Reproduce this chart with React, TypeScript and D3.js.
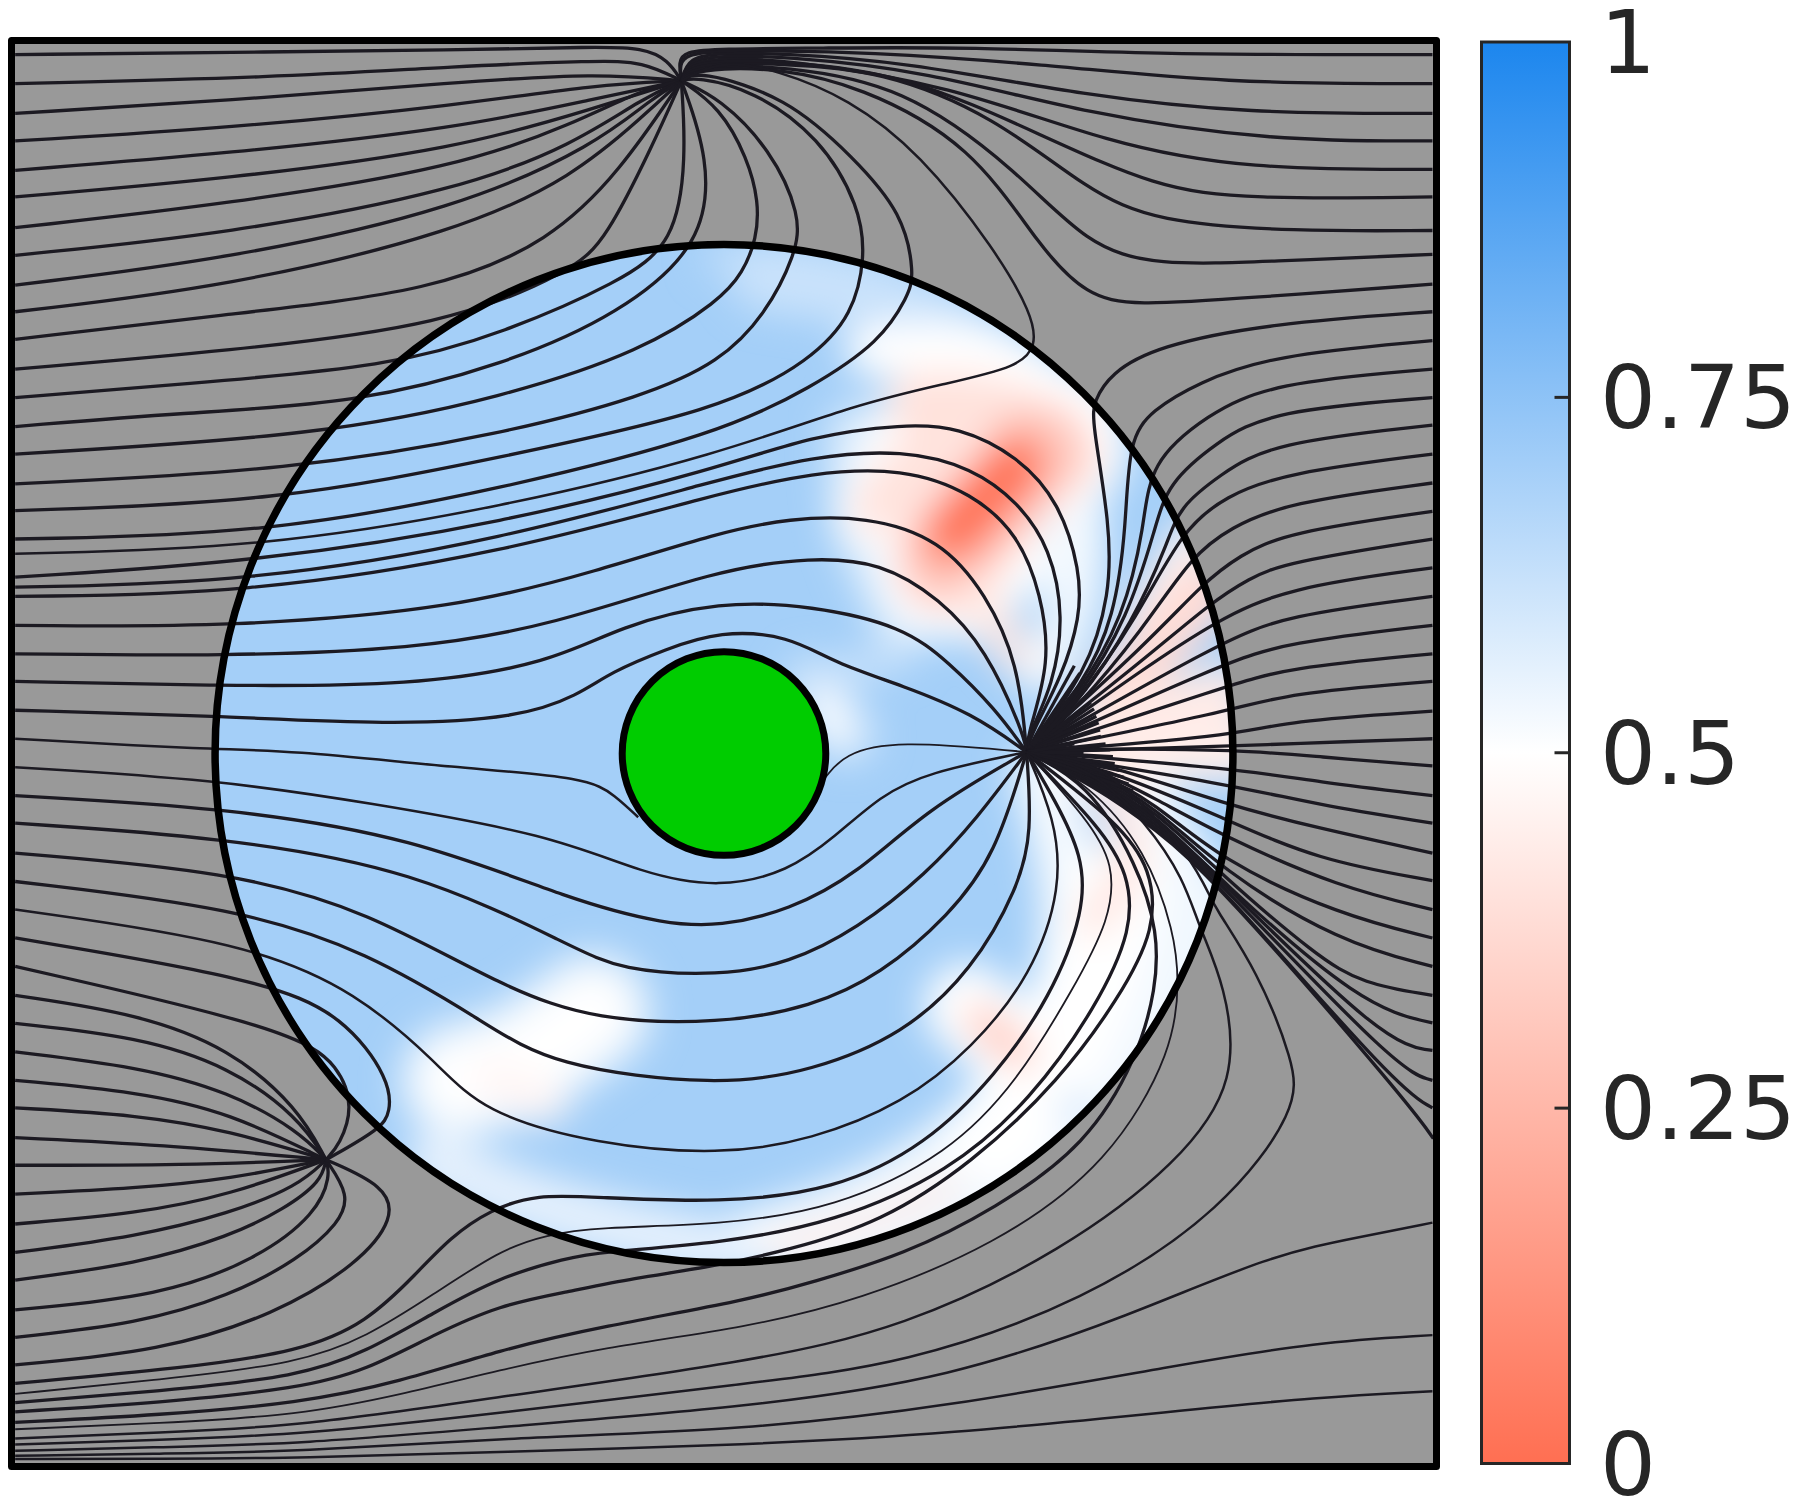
import React from "react";
import * as d3 from "d3";

// streamlines are in trace units (about 2.18 units per pixel)
const S1 = [1484, 176];
const S2 = [2236, 1638];
const S3 = [710, 2526];

const topFanLeft = [
  [[33,119],[500,114],[1000,109],[1300,102],[1400,104],[1455,130],S1],
  [[33,182],[600,169],[1000,144],[1300,132],[1400,134],S1],
  [[33,247],[500,219],[1000,179],[1300,159],S1],
  [[33,307],[500,279],[1000,229],[1300,184],S1],
  [[33,371],[500,334],[1000,279],[1300,214],S1],
  [[33,429],[500,389],[1000,324],[1300,234],S1],
  [[33,496],[500,444],[1000,364],[1250,269],[1400,194],S1],
  [[33,556],[500,509],[1000,414],[1250,314],[1400,214],S1],
  [[33,621],[500,564],[1000,454],[1300,314],[1420,214],S1],
  [[33,679],[500,624],[1000,504],[1250,384],[1400,254],S1],
  [[33,739],[500,684],[950,634],[1200,524],[1350,374],S1],
  [[33,804],[500,764],[970,709],[1250,589],[1320,520],[1420,320],S1],
];

const throughDiscToTop = [
  [[33,866],[400,836],[850,799],[1100,724],[1350,614],[1470,530],[1495,344],S1],
  [[33,929],[400,899],[775,879],[1100,794],[1350,684],[1535,530],[1545,344],S1],
  [[33,989],[700,949],[1100,864],[1400,764],[1568,654],[1618,594],[1648,520],[1653,440],[1628,344],[1568,234],S1],
  [[33,1054],[640,1024],[1100,944],[1400,864],[1568,789],[1668,684],[1733,554],[1745,470],[1678,324],[1568,214],S1],
  [[33,1112],[600,1094],[1100,994],[1568,894],[1768,784],[1858,684],[1885,560],[1873,451],[1786,298],[1640,196],[1518,168],S1],
  [[33,1174],[575,1164],[1100,1064],[1568,944],[1768,844],[1918,744],[1978,644],[1992,600],[1967,464],[1858,342],[1714,211],[1518,152],S1],
];

const throughDiscToInner = [
  [[33,1257],[560,1224],[1100,1139],[1568,1019],[1768,949],[1968,924],[2088,929],[2218,994],[2308,1094],[2353,1244],[2353,1344],[2313,1474],[2248,1594],S2],
  [[33,1279],[540,1269],[1100,1174],[1568,1044],[1768,994],[1968,979],[2118,1019],[2218,1094],[2288,1194],[2318,1344],[2293,1494],[2243,1594],S2],
  [[33,1299],[530,1294],[1100,1204],[1568,1074],[1768,1029],[1968,1019],[2118,1074],[2218,1164],[2268,1294],[2288,1444],[2240,1594],S2],
  [[33,1362],[510,1366],[1000,1324],[1300,1244],[1568,1159],[1718,1129],[1888,1124],[2048,1174],[2148,1294],[2218,1444],S2],
  [[33,1424],[490,1429],[900,1414],[1200,1364],[1568,1239],[1768,1214],[1918,1224],[2048,1304],[2148,1414],[2228,1594],S2],
  [[33,1484],[475,1494],[900,1494],[1200,1444],[1350,1364],[1568,1309],[1768,1319],[1968,1364],[2068,1444],[2168,1544],S2],
  [[33,1547],[470,1559],[850,1579],[1130,1564],[1260,1514],[1330,1464],[1450,1414],[1568,1374],[1718,1384],[1818,1444],[1968,1494],[2118,1554],S2],
  [[33,1733],[480,1758],[900,1823],[1250,1963],[1450,2013],[1568,2018],[1718,1983],[1868,1903],[2018,1763],S2],
  [[33,1793],[480,1823],[900,1893],[1250,2063],[1350,2113],[1568,2126],[1718,2098],[1868,2023],[2018,1903],[2128,1783],S2],
  [[33,1858],[500,1898],[800,1983],[1100,2153],[1300,2223],[1568,2230],[1768,2193],[1918,2123],[2068,1993],[2168,1863],S2],
  [[33,1920],[520,1978],[800,2073],[1050,2223],[1200,2323],[1568,2366],[1768,2333],[1968,2253],[2118,2113],[2218,1933],[2248,1813],S2],
  [[33,3013],[400,2980],[653,2944],[799,2881],[908,2773],[980,2696],[1067,2635],[1170,2601],[1300,2608],[1568,2620],[1818,2593],[2018,2493],[2168,2343],[2288,2173],[2363,1983],[2358,1863],[2298,1743],S2],
  [[33,3055],[350,3030],[653,2998],[799,2944],[943,2860],[1089,2781],[1235,2740],[1307,2727],[1568,2708],[1818,2663],[2068,2553],[2248,2393],[2388,2193],[2468,2023],[2458,1903],[2398,1803],S2],
  [[33,3075],[350,3055],[653,3024],[799,2984],[943,2908],[1089,2842],[1235,2814],[1379,2784],[1546,2760],[1718,2723],[1918,2663],[2118,2533],[2308,2353],[2438,2173],[2518,2023],[2508,1893],[2438,1793],S2],
  [[33,3098],[350,3082],[653,3056],[871,3010],[1089,2940],[1307,2890],[1633,2831],[1768,2793],[1968,2733],[2168,2633],[2368,2493],[2478,2303],[2518,2153],[2523,2033],[2478,1883],[2368,1703],S2],
];

// middle weight lines, the ones that alias into dashes in the reference
const lightLines = [
  [[33,1206],[565,1194],[1100,1104],[1568,989],[1868,879],[2068,834],[2218,799],[2258,754],[2248,684],[2168,544],[2004,333],[1848,214],[1692,152],[1568,130],S1],
  [[33,1609],[465,1633],[620,1633],[1000,1673],[1280,1693],[1340,1733],[1390,1780]],
  [[33,1671],[470,1698],[800,1748],[1200,1818],[1400,1903],[1568,1935],[1718,1898],[1818,1823],[1918,1733],[2018,1683],S2],
  [[33,1981],[540,2053],[780,2163],[950,2313],[1050,2423],[1300,2493],[1568,2516],[1768,2483],[1968,2403],[2118,2283],[2248,2123],[2313,1933],[2298,1783],S2],
  [[33,3133],[350,3120],[653,3107],[1089,3042],[1633,2966],[1968,2893],[2318,2723],[2568,2533],[2698,2353],[2668,2143],[2613,2023],[2578,1913],[2498,1793],[2378,1673],S2],
  [[33,3146],[350,3136],[653,3125],[1089,3078],[1633,3012],[1968,2973],[2368,2833],[2668,2633],[2828,2413],[2818,2313],[2738,2113],[2643,1973],[2628,1933],[2568,1833],[2468,1733],[2388,1663],S2],
  [[33,3160],[350,3152],[653,3145],[1089,3108],[1633,3064],[2068,3003],[2468,2863],[2768,2733],[2968,2693],[3120,2663]],
  [[33,3171],[350,3166],[653,3162],[1089,3132],[1633,3114],[2068,3063],[2568,2973],[2868,2923],[3120,2908]],
  [[33,3178],[350,3177],[653,3176],[1089,3162],[1633,3147],[2068,3123],[2568,3073],[2868,3043],[3120,3030]],
];

// hairlines
const thinLines = [
  [[1798,1693],[1838,1643],[1948,1612],S2],
  [[33,3036],[350,3005],[653,2969],[799,2912],[943,2820],[1089,2723],[1187,2690],[1300,2673],[1568,2668],[1818,2633],[2068,2513],[2218,2353],[2338,2153],[2418,2003],[2428,1883],[2368,1783],S2],
  [[33,3113],[350,3100],[653,3082],[871,3038],[1089,2984],[1307,2936],[1633,2890],[1868,2833],[2168,2713],[2418,2533],[2558,2283],[2568,2133],[2558,2033],[2498,1853],[2368,1703],S2],
];

const lowerLeftFan = [
  [[33,2043],[570,2133],[750,2213],[850,2353],[850,2423],[830,2458],S3],
  [[33,2105],[640,2243],[740,2323],[770,2413],[740,2493],S3],
  [[33,2168],[300,2208],[500,2283],[650,2413],S3],
  [[33,2229],[300,2258],[500,2323],[650,2433],S3],
  [[33,2291],[300,2323],[500,2378],[650,2463],S3],
  [[33,2353],[300,2378],[500,2423],S3],
  [[33,2413],[300,2428],[500,2463],S3],
  [[33,2478],[350,2493],S3],
  [[33,2538],[400,2538],S3],
  [[33,2601],[300,2588],[500,2568],S3],
  [[33,2666],[300,2643],[500,2603],S3],
  [[33,2728],[300,2693],[500,2643],[650,2583],S3],
  [[33,2788],[300,2753],[500,2693],[620,2633],[700,2573],S3],
  [[33,2853],[350,2823],[560,2743],[690,2643],[720,2560],S3],
  [[33,2913],[300,2883],[500,2823],[650,2743],[740,2663],[762,2603],S3],
  [[33,2973],[350,2943],[600,2863],[780,2753],[860,2653],[840,2583],S3],
];

const topFanRight = [
  [[3120,119],[2518,119],[2118,102],[1768,105],[1568,106],[1490,112],[1478,135],S1],
  [[3120,182],[2668,182],[2268,139],[1868,113],[1699,111],[1568,111],[1495,118],[1480,140],S1],
  [[3120,247],[2718,247],[2368,209],[1968,134],[1699,116],[1568,116],[1500,124],S1],
  [[3120,307],[2768,307],[2368,249],[2018,154],[1699,122],[1568,122],[1500,130],S1],
  [[3120,369],[2718,369],[2418,314],[2068,184],[1699,128],[1568,128],[1500,136],S1],
  [[3120,429],[2718,434],[2518,409],[2268,294],[1968,159],[1699,133],[1568,133],[1500,142],S1],
  [[3120,502],[2818,504],[2518,484],[2368,414],[2168,254],[1918,152],[1699,139],[1568,138],[1500,148],S1],
  [[3120,554],[2768,569],[2518,579],[2368,534],[2218,374],[1968,184],[1699,144],[1568,143],[1500,154],S1],
  [[3120,619],[2718,649],[2468,666],[2368,644],[2268,544],[2118,314],[1868,185],[1699,150],[1568,148],[1500,160],S1],
];

const rightFan = [
  [[3120,679],[2768,704],[2518,754],[2418,814],[2383,874],[2378,914],[2418,1144],[2418,1294],[2368,1464],S2],
  [[3120,742],[2768,774],[2608,834],[2508,894],[2458,959],[2453,1144],[2428,1344],[2358,1494],S2],
  [[3120,804],[2768,834],[2628,904],[2503,1009],[2493,1144],[2448,1344],[2348,1514],S2],
  [[3120,866],[2768,894],[2648,964],[2543,1054],[2518,1144],[2458,1344],[2348,1524],S2],
  [[3120,926],[2768,964],[2658,1034],[2568,1104],[2543,1184],[2468,1354],[2348,1534],S2],
  [[3120,989],[2800,1030],[2670,1080],[2575,1154],[2480,1340],[2340,1540],S2],
  [[3120,1052],[2800,1095],[2680,1150],[2597,1209],[2490,1370],[2340,1550],S2],
  [[3120,1114],[2800,1160],[2700,1210],[2621,1269],[2500,1400],S2],
  [[3120,1174],[2800,1225],[2720,1260],[2636,1314],[2500,1430],S2],
  [[3120,1237],[2800,1280],[2647,1354],[2500,1450],S2],
  [[3120,1299],[2800,1340],[2658,1399],S2],
  [[3120,1362],[2800,1400],[2667,1444],S2],
  [[3120,1424],[2800,1455],[2675,1494],S2],
  [[3120,1484],[2800,1510],[2681,1549],S2],
  [[3120,1549],[2800,1570],[2684,1604],S2],
  [[3120,1609],[2800,1620],[2684,1625],S2],
  [[3120,1668],[2868,1648],[2698,1633],[2400,1630],S2],
  [[3120,1733],[2868,1703],[2683,1673],S2],
  [[3120,1793],[2868,1753],[2678,1708],S2],
  [[3120,1858],[2868,1803],[2673,1753],[2400,1660],S2],
  [[3120,1918],[2868,1873],[2668,1783],[2400,1670],S2],
  [[3120,1981],[2918,1933],[2668,1823],[2518,1740],[2380,1670],S2],
  [[3120,2043],[2918,1993],[2658,1873],[2518,1750],[2380,1675],S2],
  [[3120,2105],[2918,2053],[2658,1893],[2518,1758],[2380,1680],S2],
  [[3120,2168],[2968,2143],[2868,2083],[2658,1903],[2518,1766],[2380,1685],S2],
  [[3120,2228],[2968,2193],[2653,1913],[2518,1774],[2380,1690],S2],
  [[3120,2288],[3018,2273],[2653,1913],[2518,1782],[2380,1695],S2],
  [[3120,2353],[3048,2333],[2653,1918],[2518,1790],[2380,1700],S2],
  [[3120,2413],[3048,2373],[2653,1923],[2518,1798],[2380,1705],S2],
  [[3122,2480],[3068,2403],[2653,1923],[2518,1806],[2380,1710],S2],
];

// the short spokes that pack the core of the inner source nearly solid
const innerCoreEnds = [
  [2340,1450],[2352,1466],[2358,1484],[2366,1500],[2368,1514],[2376,1530],[2383,1544],[2388,1560],
  [2393,1574],[2396,1590],[2398,1604],[2408,1620],[2418,1633],[2424,1648],[2428,1663],[2438,1678],
  [2448,1693],[2458,1708],[2468,1723],[2420,1690],[2400,1680],[2380,1660],[2360,1640],[2340,1620],
];

// scalar field inside the disc, as soft bands of one value over the base value
const discBase = 0.7;
const fieldValues = [0.65, 0.62, 0.58, 0.5, 0.5, 0.5, 0.52, 0.53, 0.4, 0.32, 0.4, 0.42, 0.14, 0.0, 0.45, 0.38, 0.44, 0.43, 0.52, 0.52, 0.53, 0.5, 0.41, 0.5, 0.33, 0.42, 0.62, 0.55, 0.5, 0.47, 0.56, 0.6, 0.5, 0.62];
const fieldSpreads = [80, 150, 130, 110, 130, 340, 100, 80, 130, 210, 120, 80, 150, 95, 100, 130, 150, 110, 120, 130, 170, 200, 70, 190, 75, 40, 60, 260, 170, 90, 130, 120, 60, 60];
const fieldPaths = [
  [[1568,560],[1868,600]],
  [[1668,604],[1968,644],[2268,844]],
  [[1868,944],[1868,1144],[1968,1344]],
  [[1898,764],[2088,744],[2268,814],[2388,944]],
  [[1880,1130],[2000,860]],
  [[2080,1224],[2190,1084],[2288,964]],
  [[2358,1144],[2348,1344],[2268,1464]],
  [[2300,1150],[2325,1400]],
  [[2000,875],[2200,875],[2325,1000]],
  [[2060,1224],[2168,1084],[2270,980]],
  [[1920,1104],[2068,924]],
  [[2128,1294],[2208,1424]],
  [[2070,1165],[2215,1010]],
  [[2078,1154],[2208,1019]],
  [[2500,1350],[2600,1180]],
  [[2418,1524],[2618,1294]],
  [[2375,1625],[2680,1625]],
  [[2418,1590],[2668,1500]],
  [[2500,1750],[2625,1950]],
  [[2268,1683],[2348,1933],[2318,2233],[2118,2483],[1868,2633],[1568,2723]],
  [[2608,1963],[2568,2133],[2418,2383],[2118,2633],[1768,2723]],
  [[2438,1933],[2368,2233],[2168,2483]],
  [[2398,1703],[2468,1803],[2458,1933],[2378,2003]],
  [[2108,2193],[2208,2283]],
  [[2138,2223],[2218,2293]],
  [[1688,2718],[1918,2653],[2068,2583]],
  [[2338,2413],[2340,2415]],
  [[1000,2353],[1130,2323],[1290,2203]],
  [[1000,2353],[1130,2323],[1290,2203]],
  [[1080,2353],[1190,2403]],
  [[950,2533],[1200,2643],[1568,2723]],
  [[1768,1490],[1848,1600]],
  [[1798,1534],[1818,1600]],
  [[1758,1484],[1968,1424]],
];

const colorTicks = [0, 0.25, 0.5, 0.75, 1];

const width = 1797;
const height = 1505;

const plotX = d3.scaleLinear().domain([-1.4, 1.4]).range([11.5, 1436.5]);
const plotY = d3.scaleLinear().domain([1.4, -1.4]).range([40.5, 1466.5]);
const traceX = d3.scaleLinear().domain([0, 3914]).range([0, 1797]);
const traceY = d3.scaleLinear().domain([0, 3278]).range([0, 1505]);
const barY = d3.scaleLinear().domain([0, 1]).range([1463.5, 42]);
const color = d3
  .scaleLinear<string>()
  .domain([0, 0.5, 1])
  .range(["#ff6f52", "#ffffff", "#1c86ee"]);

const line = d3
  .line<number[]>()
  .x((d) => traceX(d[0]))
  .y((d) => traceY(d[1]))
  .curve(d3.curveBasis);

const lineColor = "#1c1a22";
const normalLines = [
  ...topFanLeft,
  ...throughDiscToTop,
  ...throughDiscToInner,
  ...lowerLeftFan,
  ...topFanRight,
  ...rightFan,
  ...innerCoreEnds.map((end) => [S2, end]),
];

export default function App() {
  const cx = plotX(0);
  const cy = plotY(0);
  const rDisc = plotX(1) - plotX(0);
  const rHole = plotX(0.2) - plotX(0);
  const barX0 = 1481.5;
  const barX1 = 1569.5;

  return (
    <svg
      width={width}
      height={height}
      style={{ position: "absolute", left: 0, top: 0, display: "block" }}
    >
      <defs>
        <clipPath id="disc">
          <circle cx={cx} cy={cy} r={rDisc} />
        </clipPath>
        <clipPath id="frame">
          <rect x={plotX(-1.4)} y={plotY(1.4)} width={plotX(1.4) - plotX(-1.4)} height={plotY(-1.4) - plotY(1.4)} />
        </clipPath>
        <filter id="soft" x="-10%" y="-10%" width="120%" height="120%">
          <feGaussianBlur stdDeviation="18" />
        </filter>
        <linearGradient id="bar" x1="0" y1="1" x2="0" y2="0">
          {[0, 0.5, 1].map((v) => (
            <stop key={v} offset={v} stopColor={color(v)} />
          ))}
        </linearGradient>
      </defs>

      <rect
        x={plotX(-1.4)}
        y={plotY(1.4)}
        width={plotX(1.4) - plotX(-1.4)}
        height={plotY(-1.4) - plotY(1.4)}
        fill="#999999"
      />

      <g clipPath="url(#disc)">
        <circle cx={cx} cy={cy} r={rDisc} fill={color(discBase)} />
        <g filter="url(#soft)">
          {fieldPaths.map((p, i) => (
            <path
              key={i}
              d={line(p) ?? ""}
              fill="none"
              stroke={color(fieldValues[i])}
              strokeWidth={traceX(fieldSpreads[i])}
              strokeLinecap="round"
              strokeLinejoin="round"
            />
          ))}
        </g>
      </g>

      <g clipPath="url(#frame)" fill="none" stroke={lineColor} strokeLinejoin="round">
        {normalLines.map((p, i) => (
          <path key={i} d={line(p) ?? ""} strokeWidth={3.3} />
        ))}
        {lightLines.map((p, i) => (
          <path key={i} d={line(p) ?? ""} strokeWidth={2.5} />
        ))}
        {thinLines.map((p, i) => (
          <path key={i} d={line(p) ?? ""} strokeWidth={1.8} />
        ))}
      </g>

      <circle cx={cx} cy={cy} r={rDisc} fill="none" stroke="#000" strokeWidth={7.5} />
      <circle cx={cx} cy={cy} r={rHole} fill="#00cc00" stroke="#000" strokeWidth={7} />
      <rect
        x={plotX(-1.4)}
        y={plotY(1.4)}
        width={plotX(1.4) - plotX(-1.4)}
        height={plotY(-1.4) - plotY(1.4)}
        fill="none"
        stroke="#000"
        strokeWidth={7}
        strokeLinejoin="round"
      />

      <rect
        x={barX0}
        y={barY(1)}
        width={barX1 - barX0}
        height={barY(0) - barY(1)}
        fill="url(#bar)"
        stroke="#262626"
        strokeWidth={3}
      />
      {colorTicks.map((t) => (
        <g key={t}>
          {t > 0 && t < 1 && (
            <line x1={barX1 - 15} x2={barX1} y1={barY(t)} y2={barY(t)} stroke="#262626" strokeWidth={3} />
          )}
          <text
            x={1600}
            y={barY(t) + 31}
            fontFamily="DejaVu Sans"
            fontSize={88}
            fill="#262626"
          >
            {t}
          </text>
        </g>
      ))}
    </svg>
  );
}
